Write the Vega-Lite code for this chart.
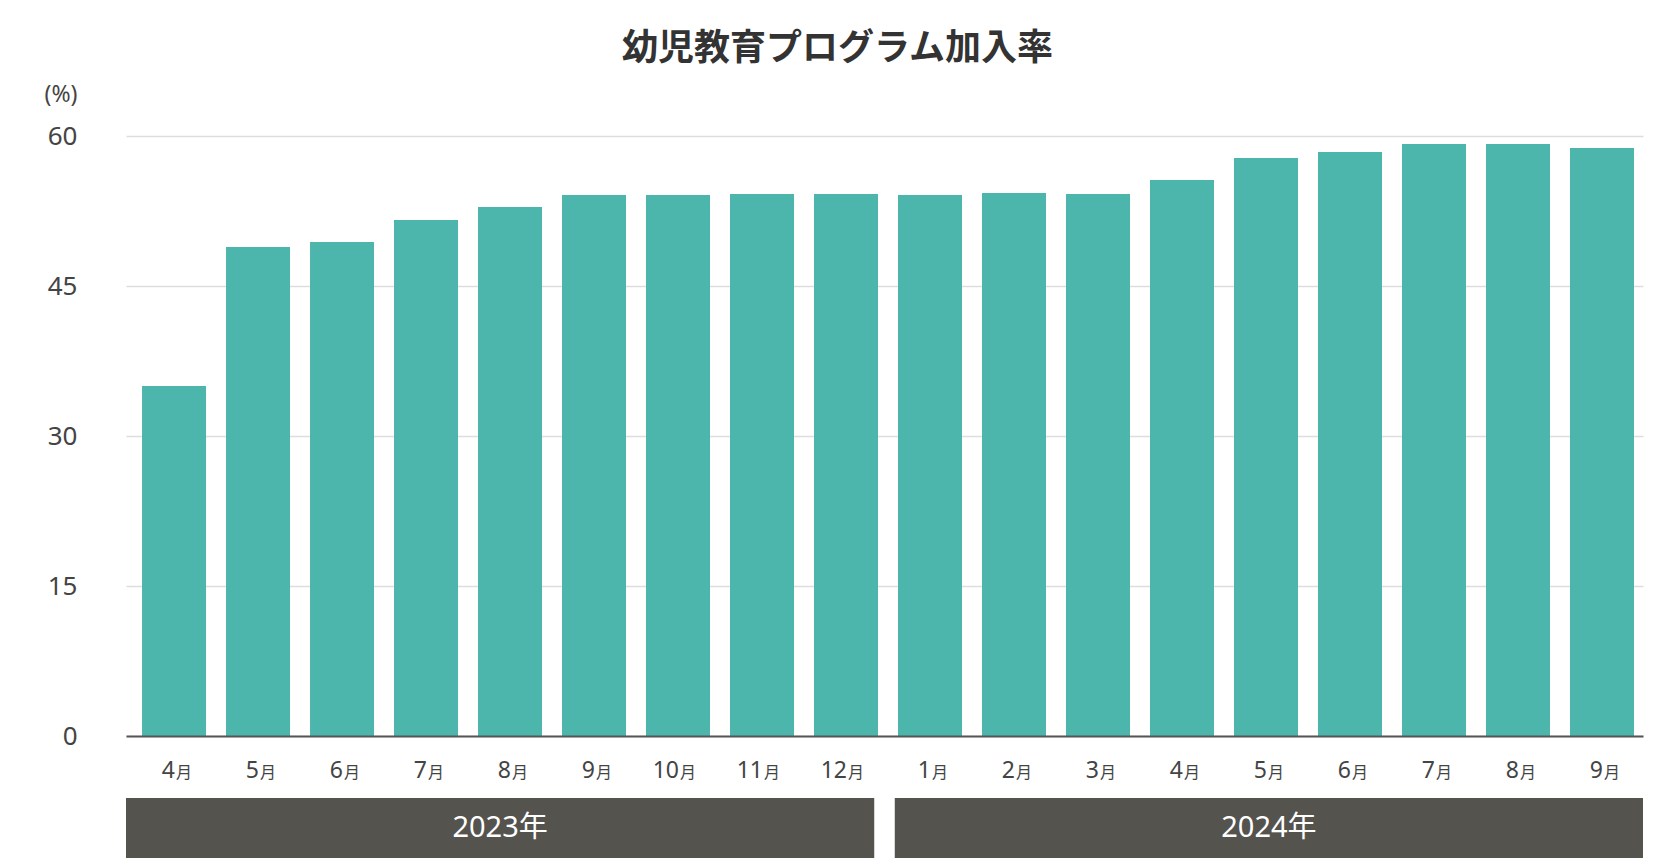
{
  "$schema": "https://vega.github.io/schema/vega-lite/v6.json",
  "padding": {"left": 44, "top": 31, "right": 17, "bottom": 0},
  "background": "#ffffff",
  "bounds": "flush",
  "spacing": 62,
  "title": {
    "text": "幼児教育プログラム加入率",
    "fontSize": 36,
    "fontWeight": "bold",
    "color": "#333333",
    "font": "Noto Sans CJK JP",
    "anchor": "middle",
    "offset": 15,
    "dx": -6
  },
  "config": {
    "font": "Noto Sans, Noto Sans CJK JP",
    "view": {"stroke": null}
  },
  "datasets": {
    "rates": [
      {"ym": "2023-04", "m": "4", "value": 35.0},
      {"ym": "2023-05", "m": "5", "value": 48.9},
      {"ym": "2023-06", "m": "6", "value": 49.4},
      {"ym": "2023-07", "m": "7", "value": 51.6},
      {"ym": "2023-08", "m": "8", "value": 52.9},
      {"ym": "2023-09", "m": "9", "value": 54.1},
      {"ym": "2023-10", "m": "10", "value": 54.1},
      {"ym": "2023-11", "m": "11", "value": 54.2},
      {"ym": "2023-12", "m": "12", "value": 54.2},
      {"ym": "2024-01", "m": "1", "value": 54.1},
      {"ym": "2024-02", "m": "2", "value": 54.3},
      {"ym": "2024-03", "m": "3", "value": 54.2},
      {"ym": "2024-04", "m": "4", "value": 55.6},
      {"ym": "2024-05", "m": "5", "value": 57.8},
      {"ym": "2024-06", "m": "6", "value": 58.4},
      {"ym": "2024-07", "m": "7", "value": 59.2},
      {"ym": "2024-08", "m": "8", "value": 59.2},
      {"ym": "2024-09", "m": "9", "value": 58.8}
    ],
    "years": [
      {"year": "2023年"},
      {"year": "2024年"}
    ]
  },
  "vconcat": [
    {
      "width": 1517,
      "height": 600,
      "data": {"name": "rates"},
      "encoding": {
        "x": {
          "field": "ym",
          "type": "ordinal",
          "sort": null,
          "scale": {"paddingInner": 0.238, "paddingOuter": 0.149, "align": 0.64},
          "axis": {
            "labels": false,
            "ticks": false,
            "grid": false,
            "title": null,
            "domain": true,
            "domainColor": "#555555",
            "domainWidth": 2,
            "zindex": 1
          }
        }
      },
      "layer": [
        {
          "mark": {"type": "bar", "color": "#4db6ac"},
          "encoding": {
            "y": {
              "field": "value",
              "type": "quantitative",
              "scale": {"domain": [0, 60], "nice": false},
              "axis": {
                "values": [0, 15, 30, 45, 60],
                "title": "(%)",
                "titleAngle": 0,
                "titleAlign": "right",
                "titleBaseline": "middle",
                "titleX": -49,
                "titleY": -42,
                "titleFontSize": 23,
                "titleFontWeight": "normal",
                "titleColor": "#444444",
                "labelFontSize": 26,
                "labelColor": "#444444",
                "labelPadding": 49,
                "ticks": false,
                "domain": false,
                "grid": true,
                "gridColor": "#dddddd",
                "gridWidth": 1.5
              }
            }
          }
        },
        {
          "mark": {"type": "text", "align": "right", "baseline": "alphabetic", "dy": 42, "dx": 1, "fontSize": 23, "color": "#444444"},
          "encoding": {
            "y": {"datum": 0, "type": "quantitative"},
            "text": {"field": "m"}
          }
        },
        {
          "mark": {"type": "text", "align": "left", "baseline": "alphabetic", "dy": 42, "dx": 2, "fontSize": 16, "color": "#444444", "font": "Noto Sans CJK JP"},
          "encoding": {
            "y": {"datum": 0, "type": "quantitative"},
            "text": {"value": "月"}
          }
        }
      ]
    },
    {
      "width": 1517,
      "height": 60,
      "data": {"name": "years"},
      "encoding": {
        "x": {
          "field": "year",
          "type": "nominal",
          "scale": {"paddingInner": 0.0267, "paddingOuter": 0},
          "axis": null
        }
      },
      "layer": [
        {"mark": {"type": "rect", "color": "#55534e"}},
        {
          "mark": {"type": "text", "color": "#ffffff", "fontSize": 29, "baseline": "middle"},
          "encoding": {"text": {"field": "year"}}
        }
      ]
    }
  ]
}
